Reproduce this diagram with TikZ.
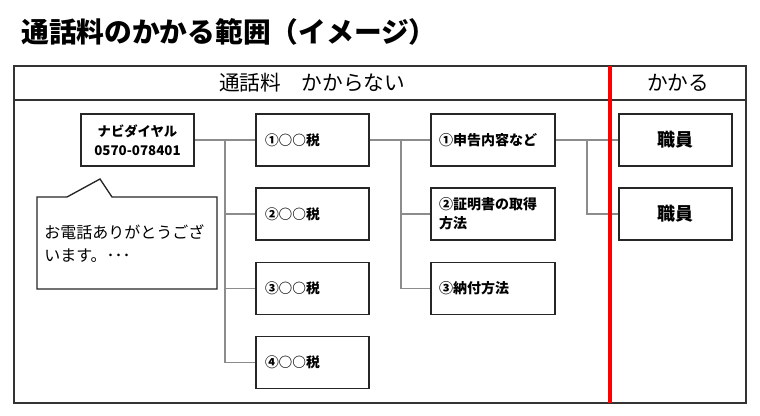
\documentclass[tikz,border=0pt]{standalone}
\usepackage{fontspec}
\setmainfont{Noto Sans CJK JP}
\begin{document}
\begin{tikzpicture}[x=0.75pt,y=-0.75pt,
  box/.style={draw=black!85,line width=1pt,fill=white,minimum width=84.75pt,minimum height=39pt,inner sep=0pt,font=\bfseries},
  lbox/.style={box,align=left,text width=71.25pt,font=\fontsize{10.3pt}{13pt}\selectfont\bfseries},
  wbox/.style={box,align=left,minimum width=93pt,text width=81pt,font=\fontsize{10.5pt}{14pt}\selectfont\bfseries},
  sbox/.style={box,font=\fontsize{13.5pt}{16pt}\selectfont\bfseries},
  conn/.style={draw=black!45,line width=0.8pt}]
\useasboundingbox (0,0) rectangle (760,415);
% title
\node[anchor=west,font=\fontsize{20.8pt}{24pt}\selectfont\bfseries,inner sep=0pt] (title) at (21,32) {通話料のかかる範囲（イメージ）};
% frame
\draw[black!80,line width=1.1pt] (14,66) rectangle (746,403);
\draw[black!80,line width=1.1pt] (14,100) -- (746,100);
\node[font=\fontsize{15.5pt}{18pt}\selectfont,inner sep=0pt] (hleft) at (312,83) {通話料\hspace{1em}かからない};
\node[font=\fontsize{15.5pt}{18pt}\selectfont,inner sep=0pt] (hright) at (678,83) {かかる};
% nav box
\node[box,align=center,font=\fontsize{10pt}{14pt}\selectfont\bfseries] (nav) at (137.5,140) {ナビダイヤル\\0570-078401};
% callout
\draw[black!85,line width=1pt,fill=white] (37,197) -- (67,197) -- (100,179) -- (112,197) -- (217,197) -- (217,289) -- (37,289) -- cycle;
\node[anchor=north west,align=left,inner sep=0pt,font=\fontsize{12pt}{17.5pt}\selectfont] (talk) at (44,224) {お電話ありがとうござ\\います。･･･};
% tax boxes
\node[lbox] (t1) at (312.5,140) {①○○税};
\node[lbox] (t2) at (312.5,214) {②○○税};
\node[lbox] (t3) at (312.5,288.5) {③○○税};
\node[lbox] (t4) at (312.5,362.5) {④○○税};
% second column
\node[wbox] (c1) at (493,140) {①申告内容など};
\node[wbox] (c2) at (493,214) {②証明書の取得\\方法};
\node[wbox] (c3) at (493,288.5) {③納付方法};
% staff
\node[sbox] (s1) at (675.5,140) {職員};
\node[sbox] (s2) at (675.5,214) {職員};
% connectors
\coordinate (j1) at (225,140);
\coordinate (j2) at (401,140);
\coordinate (j3) at (587,140);
\draw[conn] (nav.east) -- (t1.west);
\draw[conn] (j1) |- (t2.west);
\draw[conn] (j1) |- (t3.west);
\draw[conn] (j1) |- (t4.west);
\draw[conn] (t1.east) -- (c1.west);
\draw[conn] (j2) |- (c2.west);
\draw[conn] (j2) |- (c3.west);
\draw[conn] (c1.east) -- (s1.west);
\draw[conn] (j3) |- (s2.west);
% red divider
\draw[red,line width=2.3pt] (610,66) -- (610,403);
\end{tikzpicture}
\end{document}
